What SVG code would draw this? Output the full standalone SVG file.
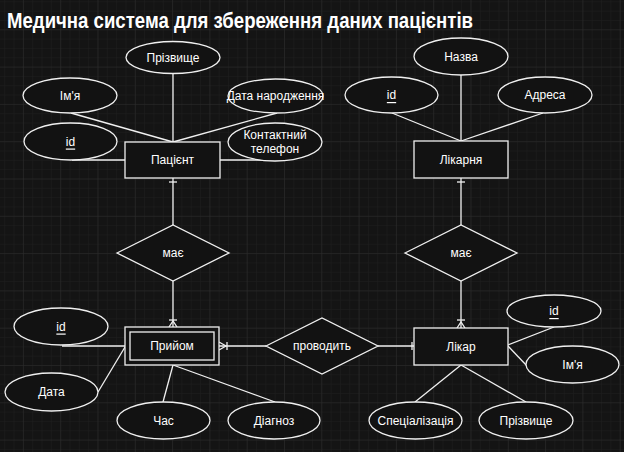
<svg xmlns="http://www.w3.org/2000/svg" width="624" height="452" viewBox="0 0 624 452">
<defs>
<pattern id="minor" width="9.325" height="9.325" patternUnits="userSpaceOnUse" patternTransform="translate(22.9 29.3)">
<path d="M0 0H9.325M0 0V9.325" fill="none" stroke="#1f1f1f" stroke-width="1"/>
</pattern>
<pattern id="major" width="37.3" height="37.3" patternUnits="userSpaceOnUse" patternTransform="translate(22.9 29.3)">
<path d="M0 0H37.3M0 0V37.3" fill="none" stroke="#2c2c2c" stroke-width="1"/>
</pattern>
<style>
.n{fill:#121212;stroke:#f0f0f0;stroke-width:1.3}
.e{stroke:#f0f0f0;stroke-width:1.3;fill:none}
.t{font-family:"Liberation Sans",Arial,sans-serif;font-size:12px;fill:#ffffff;text-anchor:middle;dominant-baseline:central}
.u{text-decoration:underline}
</style>
</defs>
<rect width="624" height="452" fill="#141414"/>
<rect width="624" height="452" fill="url(#minor)"/>
<rect width="624" height="452" fill="url(#major)"/>
<text x="7" y="28" font-family="'Liberation Sans',Arial,sans-serif" font-size="22.5" font-weight="bold" fill="#ffffff" textLength="466" lengthAdjust="spacingAndGlyphs">Медична система для збереження даних пацієнтів</text>

<g id="connectors" class="e">
<line x1="173" y1="73" x2="173" y2="142"/>
<line x1="71" y1="113" x2="173" y2="142"/>
<line x1="277" y1="113" x2="173" y2="142"/>
<line x1="72" y1="160" x2="125" y2="160"/>
<line x1="220" y1="160" x2="262" y2="160"/>
<line x1="173" y1="178" x2="173" y2="225"/>
<line x1="169" y1="182" x2="177" y2="182"/>
<line x1="173" y1="281" x2="173" y2="327"/>
<line x1="169" y1="320" x2="177" y2="320"/>
<path d="M169 327L173 321L177 327"/>
<line x1="62" y1="346" x2="125" y2="346"/>
<line x1="98" y1="392" x2="125" y2="347"/>
<line x1="163" y1="402" x2="173" y2="365"/>
<line x1="275" y1="402" x2="173" y2="365"/>
<line x1="219" y1="346" x2="266" y2="346"/>
<path d="M219 342L226 346L219 350"/>
<line x1="227" y1="342" x2="227" y2="350"/>
<line x1="378" y1="346" x2="414" y2="346"/>
<line x1="412" y1="342" x2="412" y2="350"/>
<line x1="461" y1="75" x2="461" y2="141"/>
<line x1="392" y1="113" x2="461" y2="141"/>
<line x1="543" y1="113" x2="461" y2="141"/>
<line x1="461" y1="178" x2="461" y2="225"/>
<line x1="457" y1="182" x2="465" y2="182"/>
<line x1="461" y1="281" x2="461" y2="328"/>
<line x1="457" y1="320" x2="465" y2="320"/>
<path d="M457 328L461 322L465 328"/>
<line x1="508" y1="345" x2="554" y2="327"/>
<line x1="508" y1="346" x2="528" y2="367"/>
<line x1="461" y1="365" x2="415" y2="402"/>
<line x1="461" y1="365" x2="526" y2="402"/>
</g>

<g id="patient-surname"><ellipse class="n" cx="173" cy="57.5" rx="47" ry="16"/><text class="t" x="173" y="57.5">Прізвище</text></g>
<g id="patient-name"><ellipse class="n" cx="70" cy="95.5" rx="47" ry="17.5"/><text class="t" x="70" y="95.5">Ім'я</text></g>
<g id="patient-birth"><ellipse class="n" cx="275.5" cy="96" rx="47.5" ry="17"/><text class="t" x="275.5" y="96">Дата народження</text></g>
<g id="patient-id"><ellipse class="n" cx="70.5" cy="141.5" rx="46.5" ry="18.5"/><text class="t u" x="70.5" y="141.5">id</text></g>
<g id="patient-phone"><ellipse class="n" cx="275" cy="142" rx="47" ry="19"/><text class="t" x="275" y="135">Контактний</text><text class="t" x="275" y="149">телефон</text></g>
<g id="patient"><rect class="n" x="125" y="142" width="95" height="36"/><text class="t" x="172.5" y="160">Пацієнт</text></g>
<g id="has-left"><polygon class="n" points="117,253 173,225 229,253 173,281"/><text class="t" x="173" y="253">має</text></g>

<g id="hospital-name"><ellipse class="n" cx="461" cy="56.5" rx="47" ry="18.5"/><text class="t" x="461" y="56.5">Назва</text></g>
<g id="hospital-id"><ellipse class="n" cx="391.5" cy="95" rx="46.5" ry="18"/><text class="t u" x="391.5" y="95">id</text></g>
<g id="hospital-address"><ellipse class="n" cx="545" cy="95" rx="47" ry="18"/><text class="t" x="545" y="95">Адреса</text></g>
<g id="hospital"><rect class="n" x="414" y="141" width="94" height="37"/><text class="t" x="461" y="159.5">Лікарня</text></g>
<g id="has-right"><polygon class="n" points="405,253 461,225 517,253 461,281"/><text class="t" x="461" y="253">має</text></g>

<g id="visit"><rect class="n" x="125" y="327" width="94" height="38"/><rect class="n" x="130" y="332" width="84" height="28"/><text class="t" x="172" y="346">Прийом</text></g>
<g id="visit-id"><ellipse class="n" cx="61" cy="326.5" rx="47" ry="18.5"/><text class="t u" x="61" y="326.5">id</text></g>
<g id="visit-date"><ellipse class="n" cx="51.5" cy="392" rx="46.5" ry="19"/><text class="t" x="51.5" y="392">Дата</text></g>
<g id="visit-time"><ellipse class="n" cx="163.5" cy="420.5" rx="46.5" ry="18.5"/><text class="t" x="163.5" y="420.5">Час</text></g>
<g id="visit-diagnosis"><ellipse class="n" cx="274" cy="420.5" rx="46" ry="18.5"/><text class="t" x="274" y="420.5">Діагноз</text></g>
<g id="conducts"><polygon class="n" points="266,346 322,318 378,346 322,374"/><text class="t" x="322" y="346">проводить</text></g>

<g id="doctor"><rect class="n" x="414" y="328" width="94" height="37"/><text class="t" x="461" y="346.5">Лікар</text></g>
<g id="doctor-id"><ellipse class="n" cx="554" cy="311" rx="47" ry="16"/><text class="t u" x="554" y="311">id</text></g>
<g id="doctor-name"><ellipse class="n" cx="572.5" cy="364.5" rx="46.5" ry="18.5"/><text class="t" x="572.5" y="364.5">Ім'я</text></g>
<g id="doctor-spec"><ellipse class="n" cx="415.5" cy="420.5" rx="46.5" ry="18.5"/><text class="t" x="415.5" y="420.5">Спеціалізація</text></g>
<g id="doctor-surname"><ellipse class="n" cx="526" cy="420.5" rx="47" ry="18.5"/><text class="t" x="526" y="420.5">Прізвище</text></g>
</svg>
